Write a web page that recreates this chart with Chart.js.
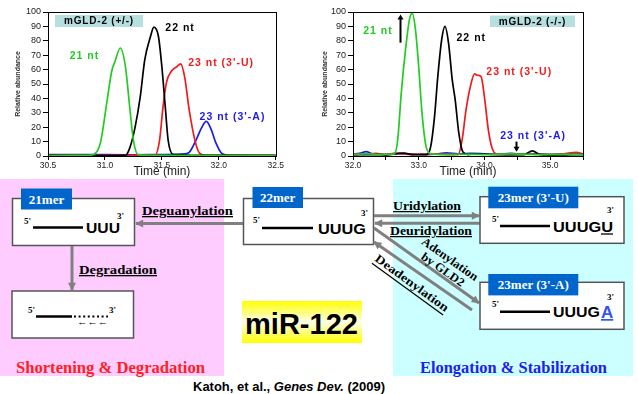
<!DOCTYPE html>
<html>
<head>
<meta charset="utf-8">
<script src="https://cdn.jsdelivr.net/npm/chart.js@4.4.1/dist/chart.umd.min.js"></script>
<style>
  html, body { margin: 0; padding: 0; background: #fff; }
  #wrap { position: relative; width: 638px; height: 394px; overflow: hidden; }
  #diag { position: absolute; left: 0; top: 0; z-index: 0; }
  .cw { position: absolute; top: 0; z-index: 1; }
  svg text { font-family: "Liberation Serif", "Times New Roman", serif; font-weight: bold; }
  svg .sans { font-family: "Liberation Sans", Arial, sans-serif; }
</style>
</head>
<body>
<div id="wrap">
<svg id="diag" width="638" height="394" xmlns="http://www.w3.org/2000/svg">
  <defs>
    <marker id="ah" viewBox="0 0 10 10" refX="9" refY="5" markerWidth="9" markerHeight="8" markerUnits="userSpaceOnUse" orient="auto">
      <path d="M0,0 L10,5 L0,10 z" fill="#808080"/>
    </marker>
    <linearGradient id="yg" x1="0" y1="0" x2="0" y2="1">
      <stop offset="0" stop-color="#ffff00"/>
      <stop offset="0.5" stop-color="#ffffe8"/>
      <stop offset="1" stop-color="#ffff00"/>
    </linearGradient>
  </defs>
  <rect x="0" y="179" width="224" height="197" fill="#ffccff"/>
  <rect x="393" y="179" width="240" height="197" fill="#ccffff"/>

  <!-- 21mer -->
  <rect x="12.5" y="198.5" width="122" height="47" fill="#fff" stroke="#555" stroke-width="1.5"/>
  <rect x="21" y="188.5" width="51" height="21" fill="#0066cc"/>
  <text x="46.5" y="203.5" fill="#fff" font-size="13" text-anchor="middle">21mer</text>
  <text x="24" y="224" font-size="9">5'</text>
  <line x1="33" y1="227.5" x2="83" y2="227.5" stroke="#000" stroke-width="2.5"/>
  <text class="sans" x="86" y="233" font-size="14" textLength="34" lengthAdjust="spacingAndGlyphs">UUU</text>
  <text x="117" y="219" font-size="9">3'</text>

  <!-- degradation -->
  <line x1="72" y1="246" x2="72" y2="290" stroke="#808080" stroke-width="3" marker-end="url(#ah)"/>
  <text x="79" y="274" font-size="13" text-decoration="underline" textLength="78" lengthAdjust="spacingAndGlyphs">Degradation</text>
  <rect x="12" y="291" width="121.5" height="47" fill="#fff" stroke="#555" stroke-width="1.5"/>
  <text x="28" y="313" font-size="9">5'</text>
  <line x1="36" y1="316.5" x2="72" y2="316.5" stroke="#000" stroke-width="2.5"/>
  <line x1="74" y1="316.5" x2="108" y2="316.5" stroke="#000" stroke-width="2" stroke-dasharray="2,2.6"/>
  <text x="109" y="313" font-size="9">3'</text>
  <text class="sans" x="77" y="325" font-size="9" font-weight="normal" textLength="31" lengthAdjust="spacingAndGlyphs">←←←</text>

  <!-- Deguanylation -->
  <line x1="243" y1="223.5" x2="136" y2="223.5" stroke="#808080" stroke-width="3" marker-end="url(#ah)"/>
  <text x="142" y="215" font-size="13" text-decoration="underline" textLength="91" lengthAdjust="spacingAndGlyphs">Deguanylation</text>

  <!-- 22mer -->
  <rect x="243.5" y="198.5" width="130" height="46" fill="#fff" stroke="#555" stroke-width="1.5"/>
  <rect x="252.5" y="187" width="50.5" height="21" fill="#0066cc"/>
  <text x="277.7" y="202" fill="#fff" font-size="13" text-anchor="middle">22mer</text>
  <text x="253" y="223" font-size="9">5'</text>
  <line x1="262" y1="228" x2="313" y2="228" stroke="#000" stroke-width="2.5"/>
  <text class="sans" x="318" y="233.5" font-size="14" textLength="48" lengthAdjust="spacingAndGlyphs">UUUG</text>
  <text x="361" y="216" font-size="9">3'</text>

  <!-- U arrows -->
  <line x1="374" y1="215.7" x2="479" y2="215.7" stroke="#808080" stroke-width="3" marker-end="url(#ah)"/>
  <text x="393" y="210" font-size="12.5" text-decoration="underline" textLength="68" lengthAdjust="spacingAndGlyphs">Uridylation</text>
  <line x1="480" y1="223.3" x2="375" y2="223.3" stroke="#808080" stroke-width="3" marker-end="url(#ah)"/>
  <text x="390" y="235" font-size="12.5" text-decoration="underline" textLength="82" lengthAdjust="spacingAndGlyphs">Deuridylation</text>

  <!-- A arrows -->
  <line x1="374" y1="228" x2="479" y2="303" stroke="#808080" stroke-width="3" marker-end="url(#ah)"/>
  <line x1="472" y1="310" x2="374" y2="242" stroke="#808080" stroke-width="3" marker-end="url(#ah)"/>
  <g transform="translate(450,259) rotate(35)"><text font-size="12" text-anchor="middle" dominant-baseline="central" textLength="66" lengthAdjust="spacingAndGlyphs">Adenylation</text></g>
  <g transform="translate(443,269.5) rotate(35)"><text font-size="12" text-anchor="middle" dominant-baseline="central" textLength="50" lengthAdjust="spacingAndGlyphs">by GLD2</text></g>
  <g transform="translate(412,283) rotate(36)"><text font-size="12" text-anchor="middle" dominant-baseline="central" text-decoration="underline" textLength="88" lengthAdjust="spacingAndGlyphs">Deadenylation</text></g>

  <!-- 23mer U -->
  <rect x="480" y="196.7" width="144" height="46.6" fill="#fff" stroke="#555" stroke-width="1.5"/>
  <rect x="488.3" y="186.7" width="90" height="21.6" fill="#0066cc"/>
  <text x="533.3" y="202" fill="#fff" font-size="13" text-anchor="middle">23mer (3'-U)</text>
  <text x="492" y="222" font-size="9">5'</text>
  <line x1="500" y1="226" x2="550" y2="226" stroke="#000" stroke-width="2.5"/>
  <text class="sans" x="553" y="231.5" font-size="14" textLength="60" lengthAdjust="spacingAndGlyphs">UUUGU</text>
  <line x1="601" y1="234" x2="613" y2="234" stroke="#000" stroke-width="1.3"/>
  <text x="607" y="213" font-size="9">3'</text>

  <!-- 23mer A -->
  <rect x="480" y="282.3" width="144" height="47" fill="#fff" stroke="#555" stroke-width="1.5"/>
  <rect x="488.3" y="274" width="90" height="21.4" fill="#0066cc"/>
  <text x="533.3" y="289" fill="#fff" font-size="13" text-anchor="middle">23mer (3'-A)</text>
  <text x="492" y="307" font-size="9">5'</text>
  <line x1="500" y1="311.7" x2="550" y2="311.7" stroke="#000" stroke-width="2.5"/>
  <text class="sans" x="553" y="317" font-size="14" textLength="47" lengthAdjust="spacingAndGlyphs">UUUG</text>
  <text class="sans" x="601" y="318" font-size="17" fill="#3355ee" text-decoration="underline" font-weight="normal">A</text>
  <text x="607" y="300" font-size="9">3'</text>

  <!-- miR-122 -->
  <rect x="242" y="301" width="120" height="42" fill="url(#yg)"/>
  <text class="sans" x="245" y="333.5" font-size="30" textLength="113" lengthAdjust="spacingAndGlyphs" fill="#000">miR-122</text>

  <text x="16" y="373" font-size="16" fill="#ff2020" textLength="189" lengthAdjust="spacingAndGlyphs">Shortening &amp; Degradation</text>
  <text x="420" y="373" font-size="16" fill="#2020ee" textLength="187" lengthAdjust="spacingAndGlyphs">Elongation &amp; Stabilization</text>

  <text class="sans" x="193" y="391" font-size="12" textLength="192" lengthAdjust="spacingAndGlyphs">Katoh, et al., <tspan font-style="italic">Genes Dev.</tspan> (2009)</text>
</svg>
<div class="cw" style="left:0px"><canvas id="c1" width="285" height="180"></canvas></div>
<div class="cw" style="left:310px"><canvas id="c2" width="283" height="180"></canvas></div>
</div>
<script>
// ---- Left panel: mGLD-2 (+/-) ----
const leftGreenX = [30.5, 30.7, 30.85, 30.9, 30.96, 31.02, 31.06, 31.09, 31.135, 31.18, 31.22, 31.25, 31.29, 31.4, 32.0, 32.5];
const leftGreenY = [0.3, 0.4, 0.5, 1, 9, 39, 59, 66, 75, 62, 32, 11, 1, 0.4, 0.3, 0.3];
const leftBlackX = [30.5, 31.0, 31.18, 31.22, 31.265, 31.31, 31.35, 31.40, 31.43, 31.47, 31.50, 31.53, 31.555, 31.60, 32.0, 32.5];
const leftBlackY = [0.3, 0.3, 0.5, 6, 20, 41, 67, 83, 89.5, 83, 62, 34, 11, 1, 0.4, 0.3];
const leftRedX = [30.5, 31.0, 31.44, 31.48, 31.51, 31.54, 31.585, 31.63, 31.665, 31.70, 31.74, 31.79, 31.83, 31.89, 32.2, 32.5];
const leftRedY = [0.5, 0.5, 0.5, 11, 34, 51, 59, 62, 64, 55, 32, 11, 2, 0.5, 0.4, 0.4];
const leftBlueX = [30.5, 30.8, 31.2, 31.5, 31.7, 31.74, 31.80, 31.845, 31.89, 31.93, 31.975, 32.03, 32.09, 32.5];
const leftBlueY = [1, 1, 0.8, 1, 1.5, 2.5, 11, 19, 24, 19, 9, 1.5, 0.5, 0.4];

// ---- Right panel: mGLD-2 (-/-) ----
const rightGreenX = [32.0, 32.2, 32.4, 32.55, 32.63, 32.68, 32.735, 32.80, 32.86, 32.90, 32.95, 33.0, 33.05, 33.115, 33.19, 33.4, 33.7, 34.0, 34.4, 34.8, 35.2, 35.5];
const rightGreenY = [1, 1.5, 1, 1.2, 1.5, 11, 44, 74, 95, 99, 88, 62, 30, 6, 1.5, 1, 1.2, 1, 1.5, 1, 1.2, 1];
const rightBlackX = [32.0, 32.3, 32.5, 32.78, 32.9, 33.115, 33.18, 33.24, 33.29, 33.35, 33.40, 33.455, 33.51, 33.555, 33.61, 33.67, 33.75, 33.85, 34.2, 34.6, 34.73, 34.85, 35.1, 35.5];
const rightBlackY = [0.8, 1, 0.8, 2, 1, 1, 6, 27, 55, 81, 90, 78, 53, 39, 16, 3, 1, 1.5, 1, 1, 3.5, 1, 0.8, 1];
const rightRedX = [32.0, 32.2, 32.35, 32.5, 32.65, 32.9, 33.2, 33.45, 33.60, 33.66, 33.72, 33.785, 33.85, 33.90, 33.95, 34.0, 34.06, 34.12, 34.18, 34.4, 34.7, 35.0, 35.2, 35.4, 35.5];
const rightRedY = [1.5, 1.2, 1.8, 1, 2, 1, 1.5, 1, 1, 11, 32, 48, 57, 56, 55, 41, 18, 5, 1.5, 1, 1.2, 1, 1.5, 2.5, 1.5];
const rightBlueX = [32.0, 32.1, 32.2, 32.3, 32.5, 32.7, 32.9, 33.1, 33.3, 33.42, 33.6, 33.8, 34.0, 34.2, 34.4, 34.6, 34.8, 35.0, 35.2, 35.5];
const rightBlueY = [1.5, 1.8, 3, 1.5, 1.2, 1.8, 1.3, 1, 1.5, 2.2, 1.5, 1.8, 1.5, 1.2, 1.8, 1.2, 1.5, 1.2, 1.5, 1.2];

const seriesNames = ['21 nt', '22 nt', "23 nt (3'-U)", "23 nt (3'-A)"];
const seriesColors = ['#22cc22', '#000000', '#ee1c1c', '#1c1ce6'];
const yTicks = [0, 10, 20, 30, 40, 50, 60, 70, 80, 90, 100];

const pts = (xs, ys) => xs.map((x, i) => ({x: x, y: ys[i]}));

const framePlugin = {
  id: 'frame',
  afterDraw(chart) {
    const a = chart.chartArea, ctx = chart.ctx;
    ctx.save();
    ctx.strokeStyle = '#000'; ctx.lineWidth = 1;
    ctx.strokeRect(Math.round(a.left) + 0.5, Math.round(a.top) + 0.5, Math.round(a.right - a.left), Math.round(a.bottom - a.top));
    ctx.restore();
  }
};

const notePlugin = {
  id: 'notes',
  afterDatasetsDraw(chart, args, opts) {
    const ctx = chart.ctx, xs = chart.scales.x, ys = chart.scales.y;
    ctx.save();
    // legend-like box
    const b = opts.box;
    ctx.fillStyle = '#b6e0e0';
    ctx.fillRect(b.x0, b.y0, b.x1 - b.x0, b.y1 - b.y0);
    ctx.fillStyle = '#000';
    ctx.font = 'bold 10px "Liberation Sans", Arial, sans-serif';
    ctx.letterSpacing = '0.8px';
    ctx.textAlign = 'center'; ctx.textBaseline = 'middle';
    ctx.fillText(b.text, (b.x0 + b.x1) / 2, (b.y0 + b.y1) / 2 + 0.5);
    // peak labels
    ctx.font = 'bold 10.5px "Liberation Sans", Arial, sans-serif';
    ctx.letterSpacing = '1px';
    opts.labels.forEach((l, i) => {
      ctx.fillStyle = seriesColors[i];
      ctx.fillText(seriesNames[i], xs.getPixelForValue(l[0]), ys.getPixelForValue(l[1]));
    });
    ctx.letterSpacing = '0px';
    // arrows
    (opts.arrows || []).forEach(a => {
      const px = Math.round(xs.getPixelForValue(a.x)) + 0.5;
      const yA = ys.getPixelForValue(a.from), yB = ys.getPixelForValue(a.to);
      const dir = yB < yA ? -1 : 1;
      ctx.strokeStyle = '#000'; ctx.fillStyle = '#000'; ctx.lineWidth = 2;
      ctx.beginPath(); ctx.moveTo(px, yA); ctx.lineTo(px, yB - dir * 4); ctx.stroke();
      ctx.beginPath(); ctx.moveTo(px, yB); ctx.lineTo(px - 3, yB - dir * 5); ctx.lineTo(px + 3, yB - dir * 5); ctx.closePath(); ctx.fill();
    });
    ctx.restore();
  }
};

function makeChart(id, data, xmin, xmax, step, labelEvery, yW, yTitlePad, rightPad, notes) {
  const datasets = data.map((d, i) => ({
    label: seriesNames[i],
    data: pts(d[0], d[1]),
    borderColor: seriesColors[i],
    borderWidth: 1.7,
    pointRadius: 0,
    cubicInterpolationMode: 'monotone',
    fill: false
  }));
  return new Chart(document.getElementById(id), {
    type: 'line',
    data: { datasets },
    plugins: [framePlugin, notePlugin],
    options: {
      responsive: false,
      animation: false,
      devicePixelRatio: 1,
      layout: { padding: { top: 12, right: rightPad, left: 0, bottom: 0 } },
      plugins: { legend: { display: false }, tooltip: { enabled: false }, notes: notes },
      scales: {
        x: {
          type: 'linear', min: xmin, max: xmax,
          ticks: {
            stepSize: step, autoSkip: false, maxRotation: 0, padding: 1, color: '#222',
            font: { family: '"Liberation Sans", Arial, sans-serif', size: 8.5 },
            callback: v => (Math.abs(v / labelEvery - Math.round(v / labelEvery)) < 1e-6 ? v.toFixed(1) : '')
          },
          grid: { display: true, drawOnChartArea: false, drawTicks: true, tickLength: 4, color: '#000' },
          border: { display: true, color: '#000', width: 1 },
          title: { display: true, text: 'Time (min)', color: '#222', padding: { top: 0, bottom: 1 },
                   font: { family: '"Liberation Sans", Arial, sans-serif', size: 12 } },
          afterFit: s => { s.height = 24; }
        },
        y: {
          min: 0, max: 100,
          afterBuildTicks: s => { s.ticks = yTicks.map(v => ({ value: v })); },
          ticks: { padding: 2, color: '#222', font: { family: '"Liberation Sans", Arial, sans-serif', size: 9 } },
          grid: { display: true, drawOnChartArea: false, drawTicks: true, tickLength: 5, color: '#000' },
          border: { display: true, color: '#000', width: 1 },
          title: { display: true, text: 'Relative abundance', color: '#333', padding: { top: yTitlePad, bottom: 0 },
                   font: { family: '"Liberation Sans", Arial, sans-serif', size: 7, weight: 'bold' } },
          afterFit: s => { s.width = yW; }
        }
      }
    }
  });
}

makeChart('c1',
  [[leftGreenX, leftGreenY], [leftBlackX, leftBlackY], [leftRedX, leftRedY], [leftBlueX, leftBlueY]],
  30.5, 32.5, 0.5, 0.5, 48, 14, 8,
  { box: { text: 'mGLD-2 (+/-)', x0: 55, y0: 15, x1: 143, y1: 27 },
    labels: [[30.82, 69.7], [31.66, 88.5], [32.02, 64.8], [32.12, 27.2]] });

makeChart('c2',
  [[rightGreenX, rightGreenY], [rightBlackX, rightBlackY], [rightRedX, rightRedY], [rightBlueX, rightBlueY]],
  32.0, 35.5, 0.5, 1.0, 43, 11, 10,
  { box: { text: 'mGLD-2 (-/-)', x0: 180, y0: 15.5, x1: 265, y1: 27 },
    labels: [[32.38, 86.4], [33.80, 82.2], [34.53, 58.5], [34.74, 13.9]],
    arrows: [{ x: 32.71, from: 78.7, to: 98.3 }, { x: 34.48, from: 10, to: 3 }] });
</script>
</body>
</html>
